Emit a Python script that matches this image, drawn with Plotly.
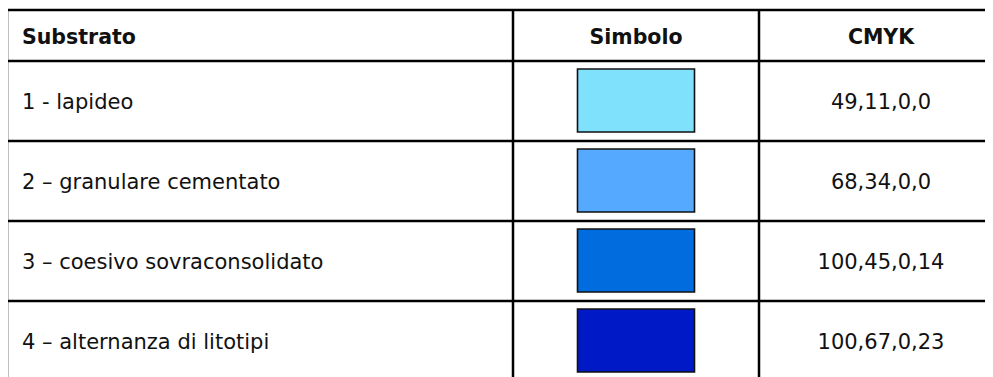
import plotly.graph_objects as go

# table content
headers = ["Substrato", "Simbolo", "CMYK"]
substrati = ["1 - lapideo", "2 \u2013 granulare cementato", "3 \u2013 coesivo sovraconsolidato",
             "4 \u2013 alternanza di litotipi"]
cmyk = ["49,11,0,0", "68,34,0,0", "100,45,0,14", "100,67,0,23"]
simbolo_colori = ["#80E1FC", "#55AAFF", "#006CDE", "#0019C6"]

# layout (pixel-like axis units)
W, H = 993, 377
off = 8  # page body margin
col_edges = [7, 513, 759, 1003]
top, head_h, row_h = 10, 51, 80
sw_w, sw_top, sw_h = 117, 8, 63
font = "Verdana, DejaVu Sans, sans-serif"
fs_head, fs = 20.5, 21
txt_dy = 3

fig = go.Figure()
shapes = []
line = dict(color="black", width=2.5)
n = len(substrati)
bottom = top + head_h + n * row_h

# horizontal lines
ys = [top, top + head_h] + [top + head_h + (i + 1) * row_h for i in range(n)]
for y in ys:
    shapes.append(dict(type="line", x0=col_edges[0], x1=col_edges[-1], y0=y, y1=y, line=line))
# vertical lines
for x in col_edges:
    shapes.append(dict(type="line", x0=x, x1=x, y0=top, y1=bottom, line=line))

# swatches
sym_cx = (col_edges[1] + col_edges[2]) / 2
for i, c in enumerate(simbolo_colori):
    y0 = top + head_h + i * row_h + sw_top
    shapes.append(dict(type="rect", x0=sym_cx - sw_w / 2, x1=sym_cx + sw_w / 2, y0=y0, y1=y0 + sw_h,
                       fillcolor=c, line=dict(color="#111111", width=1.6)))

# header text
head_y = top + head_h / 2 + txt_dy
fig.add_trace(go.Scatter(x=[col_edges[0] + 15], y=[head_y], mode="text", text=["<b>" + headers[0] + "</b>"],
                         textposition="middle right", textfont=dict(family=font, size=fs_head, color="#111111")))
fig.add_trace(go.Scatter(x=[sym_cx, (col_edges[2] + col_edges[3]) / 2], y=[head_y, head_y], mode="text",
                         text=["<b>" + h + "</b>" for h in headers[1:]],
                         textposition="middle center", textfont=dict(family=font, size=fs_head, color="#111111")))

# body text
row_y = [top + head_h + (i + 0.5) * row_h + txt_dy for i in range(n)]
fig.add_trace(go.Scatter(x=[col_edges[0] + 15] * n, y=row_y, mode="text", text=substrati,
                         textposition="middle right", textfont=dict(family=font, size=fs, color="#111111")))
fig.add_trace(go.Scatter(x=[(col_edges[2] + col_edges[3]) / 2] * n, y=row_y, mode="text", text=cmyk,
                         textposition="middle center", textfont=dict(family=font, size=fs, color="#111111")))

# figure sized to fit inside the page's 8px body margin
fig.update_layout(width=W - off, height=H - off, margin=dict(l=0, r=0, t=0, b=0), showlegend=False,
                  plot_bgcolor="white", paper_bgcolor="white", shapes=shapes)
fig.update_xaxes(range=[off, W], visible=False, fixedrange=True)
fig.update_yaxes(range=[H, off], visible=False, fixedrange=True)
fig.write_html("out.html", config={"displayModeBar": False})
